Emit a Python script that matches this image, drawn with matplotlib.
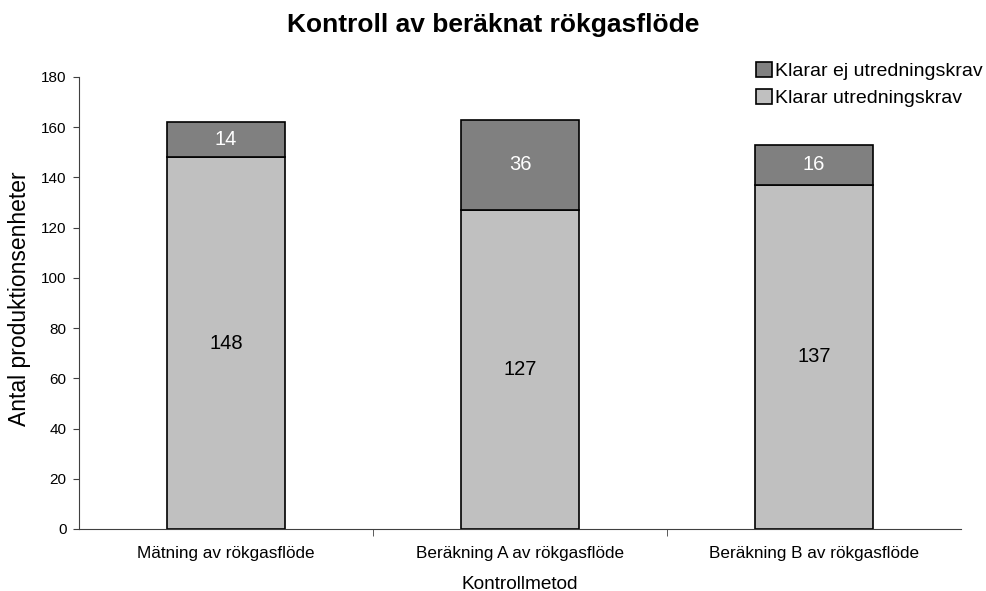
import matplotlib.pyplot as plt
import numpy as np

plt.rcParams['font.family'] = ['Liberation Sans', 'DejaVu Sans']

# data
methods = ['Mätning av rökgasflöde', 'Beräkning A av rökgasflöde', 'Beräkning B av rökgasflöde']
klarar = [148, 127, 137]
klarar_ej = [14, 36, 16]

fig = plt.figure(figsize=(9.86, 5.91), dpi=100)
ax = fig.add_axes([79 / 986, 1 - 529 / 591, (961 - 79) / 986, (529 - 77) / 591])

x = np.arange(len(methods))
b1 = ax.bar(x, klarar, width=0.4, color='#c0c0c0', edgecolor='black', linewidth=1.2,
            label='Klarar utredningskrav')
b2 = ax.bar(x, klarar_ej, width=0.4, bottom=klarar, color='#808080', edgecolor='black',
            linewidth=1.2, label='Klarar ej utredningskrav')

for i in range(len(methods)):
    ax.text(x[i], klarar[i] / 2, str(klarar[i]), ha='center', va='center', fontsize=14.5, color='black')
    ax.text(x[i], klarar[i] + klarar_ej[i] / 2, str(klarar_ej[i]), ha='center', va='center',
            fontsize=14.5, color='white')

ax.set_xlim(-0.5, 2.5)
ax.set_ylim(0, 180)
ax.set_yticks(range(0, 181, 20))
ax.tick_params(axis='y', labelsize=11, length=4, pad=5, direction='out', color='#404040')
ax.set_xticks(x)
ax.set_xticklabels(methods, fontsize=12.3)
ax.set_xticks([0.5, 1.5], minor=True)
ax.tick_params(axis='x', which='major', length=0, pad=12)
ax.tick_params(axis='x', which='minor', length=5, color='#404040')

for s in ['top', 'right']:
    ax.spines[s].set_visible(False)
for s in ['left', 'bottom']:
    ax.spines[s].set_color('#404040')

ax.set_xlabel('Kontrollmetod', fontsize=13.7, labelpad=11)
ax.set_ylabel('Antal produktionsenheter', fontsize=16.5)
ax.yaxis.set_label_coords(-0.0544, 0.51)

fig.text(0.5, 1 - 25 / 591, 'Kontroll av beräknat rökgasflöde', fontsize=19, fontweight='bold',
         ha='center', va='center')

fig.legend(handles=[b2, b1], loc='upper left', bbox_to_anchor=(756 / 986, 1 - 62 / 591),
           frameon=False, fontsize=14, handlelength=0.8, handleheight=0.8, handletextpad=0.2,
           labelspacing=0.45, borderpad=0, borderaxespad=0)

fig.savefig('out.png', dpi=100)
